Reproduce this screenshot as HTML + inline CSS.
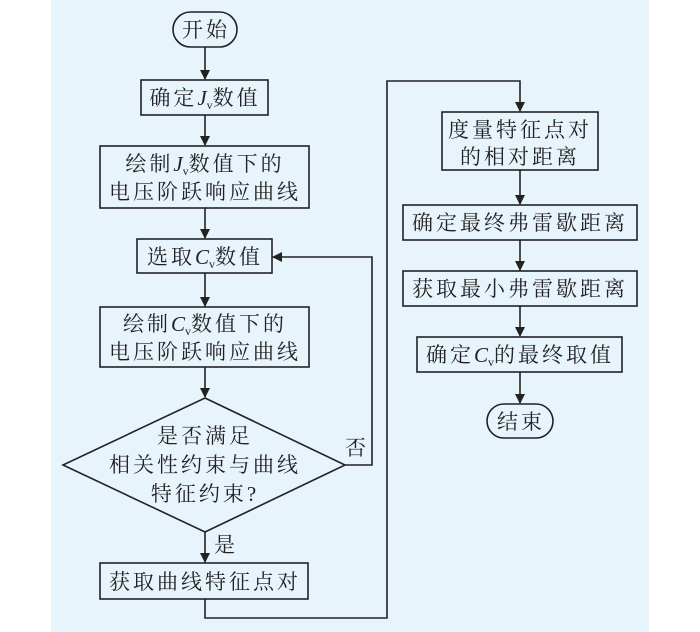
<!DOCTYPE html>
<html><head><meta charset="utf-8"><style>
html,body{margin:0;padding:0;background:#fff;}
svg{display:block;}
text{font-family:"Liberation Serif","Noto Serif CJK SC",serif;font-size:21px;fill:#222;text-anchor:middle;letter-spacing:3px;}
.i{font-style:italic;letter-spacing:0;}
.s{font-size:12px;letter-spacing:0;}
</style></head><body>
<svg width="700" height="632" viewBox="0 0 700 632" xmlns="http://www.w3.org/2000/svg">
<defs><marker id="a" markerWidth="10" markerHeight="12" refX="9" refY="5" orient="auto" markerUnits="userSpaceOnUse"><path d="M0,0 L10,5 L0,10 Z" fill="#222"/></marker></defs>
<rect x="51" y="0" width="598" height="632" fill="#e8f4fc"/>
<g fill="none" stroke="#222" stroke-width="1.6">
<rect x="173" y="12" width="64" height="35" rx="17.5"/>
<rect x="141" y="80" width="127" height="35"/>
<rect x="100" y="146" width="209" height="62"/>
<rect x="137" y="239" width="135" height="34"/>
<rect x="100" y="307" width="209" height="60"/>
<polygon points="205,398 345,465 205,532 63,465"/>
<rect x="100" y="563" width="208" height="36"/>
<rect x="442" y="112" width="156" height="58"/>
<rect x="403" y="205" width="234" height="35"/>
<rect x="403" y="271" width="234" height="35"/>
<rect x="417" y="337" width="205" height="35"/>
<rect x="487" y="404" width="66" height="34" rx="17"/>
<line x1="205" y1="47" x2="205" y2="79" marker-end="url(#a)"/>
<line x1="205" y1="115" x2="205" y2="145" marker-end="url(#a)"/>
<line x1="205" y1="208" x2="205" y2="238" marker-end="url(#a)"/>
<line x1="205" y1="273" x2="205" y2="306" marker-end="url(#a)"/>
<line x1="205" y1="367" x2="205" y2="397" marker-end="url(#a)"/>
<line x1="205" y1="532" x2="205" y2="562" marker-end="url(#a)"/>
<polyline points="345,465 372,465 372,257 273,257" marker-end="url(#a)"/>
<polyline points="205,599 205,618 387,618 387,81 520,81 520,111" marker-end="url(#a)"/>
<line x1="520" y1="170" x2="520" y2="204" marker-end="url(#a)"/>
<line x1="520" y1="240" x2="520" y2="270" marker-end="url(#a)"/>
<line x1="520" y1="306" x2="520" y2="336" marker-end="url(#a)"/>
<line x1="520" y1="372" x2="520" y2="403" marker-end="url(#a)"/>
</g>
<text x="206" y="37">开始</text>
<text x="205" y="105">确定<tspan class="i">J</tspan><tspan class="s" dy="4">v</tspan><tspan dy="-4">数值</tspan></text>
<text x="205" y="171">绘制<tspan class="i">J</tspan><tspan class="s" dy="4">v</tspan><tspan dy="-4">数值下的</tspan></text>
<text x="205" y="199">电压阶跃响应曲线</text>
<text x="205" y="264">选取<tspan class="i">C</tspan><tspan class="s" dy="4">v</tspan><tspan dy="-4">数值</tspan></text>
<text x="205" y="331">绘制<tspan class="i">C</tspan><tspan class="s" dy="4">v</tspan><tspan dy="-4">数值下的</tspan></text>
<text x="205" y="359">电压阶跃响应曲线</text>
<text x="205" y="443">是否满足</text>
<text x="205" y="472">相关性约束与曲线</text>
<text x="205" y="501">特征约束?</text>
<text x="357" y="455">否</text>
<text x="226" y="552">是</text>
<text x="205" y="589">获取曲线特征点对</text>
<text x="520" y="137">度量特征点对</text>
<text x="520" y="164">的相对距离</text>
<text x="520" y="230">确定最终弗雷歇距离</text>
<text x="520" y="296">获取最小弗雷歇距离</text>
<text x="520" y="362">确定<tspan class="i">C</tspan><tspan class="s" dy="4">v</tspan><tspan dy="-4">的最终取值</tspan></text>
<text x="521" y="429">结束</text>
</svg>
</body></html>
